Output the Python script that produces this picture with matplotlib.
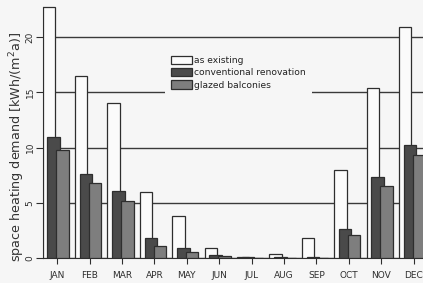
import matplotlib
matplotlib.use("Agg")
import matplotlib.pyplot as plt
from matplotlib.patches import Patch
import numpy as np

months = ["JAN", "FEB", "MAR", "APR", "MAY", "JUN", "JUL", "AUG", "SEP", "OCT", "NOV", "DEC"]
as_existing = [22.7, 16.5, 14.05, 6.0, 3.8, 0.9, 0.1, 0.35, 1.85, 8.0, 15.35, 20.9]
conventional = [11.0, 7.6, 6.1, 1.8, 0.9, 0.3, 0.05, 0.05, 0.1, 2.65, 7.35, 10.2]
glazed = [9.8, 6.8, 5.2, 1.1, 0.5, 0.15, 0.02, 0.0, 0.0, 2.1, 6.5, 9.3]
series_labels = ["as existing", "conventional renovation", "glazed balconies"]
yticks = [0, 5, 10, 15, 20]

bg = "#f6f6f6"
edge = "#2e2e2e"
colors = ["#fbfbfb", "#4a4a4a", "#7e7e7e"]

W, H = 423, 283
fig = plt.figure(figsize=(W / 100, H / 100), dpi=100, facecolor=bg)
ax = fig.add_axes([43 / W, 25 / H, 1 - 43 / W, (258 - 4) / H], facecolor=bg)

x = np.arange(len(months))
w = 0.385
offs = [-0.26, -0.11, 0.165]
for vals, off, c, lab in zip([as_existing, conventional, glazed], offs, colors, series_labels):
    ax.bar(x + off, vals, width=w, color=c, edgecolor=edge, linewidth=0.9, zorder=3, label=lab)

ax.set_xlim(-0.44, 11.29)
ax.set_ylim(0, 23.0)
ax.set_yticks(yticks)
ax.set_yticklabels([str(t) for t in yticks], rotation=90, va="center", fontsize=6.5)
ax.set_xticks(x)
ax.set_xticklabels(months, fontsize=6.5)
ax.tick_params(axis="y", length=5, width=0.8, pad=1, colors=edge)
ax.tick_params(axis="x", length=4, width=0.8, pad=5, colors=edge)
ax.yaxis.grid(True, color="#3a3a3a", linewidth=1.0, zorder=0)
ax.set_axisbelow(True)
for s in ["top", "right"]:
    ax.spines[s].set_visible(False)
ax.spines["left"].set_bounds(0, 22.7)
ax.spines["left"].set_color(edge)
ax.spines["bottom"].set_color(edge)
ax.set_ylabel("space heating demand [kWh/(m$^2$a)]", fontsize=9.2, color="#333333")
ax.yaxis.set_label_coords((27 - 43) / (W - 43), (258 - 147) / 254)

handles = [Patch(facecolor=c, edgecolor=edge, linewidth=0.9) for c in colors]
leg = fig.legend(handles, series_labels, loc="upper left",
                 bbox_to_anchor=(165 / W, 1 - 50 / H), fontsize=6.6,
                 frameon=True, facecolor=bg, edgecolor="none", framealpha=1,
                 handlelength=2.3, handleheight=1.0, labelspacing=0.35,
                 handletextpad=0.3, borderpad=0.6, borderaxespad=0)
for t in leg.get_texts():
    t.set_color("#222222")

fig.savefig("out.png", dpi=100, facecolor=bg)
